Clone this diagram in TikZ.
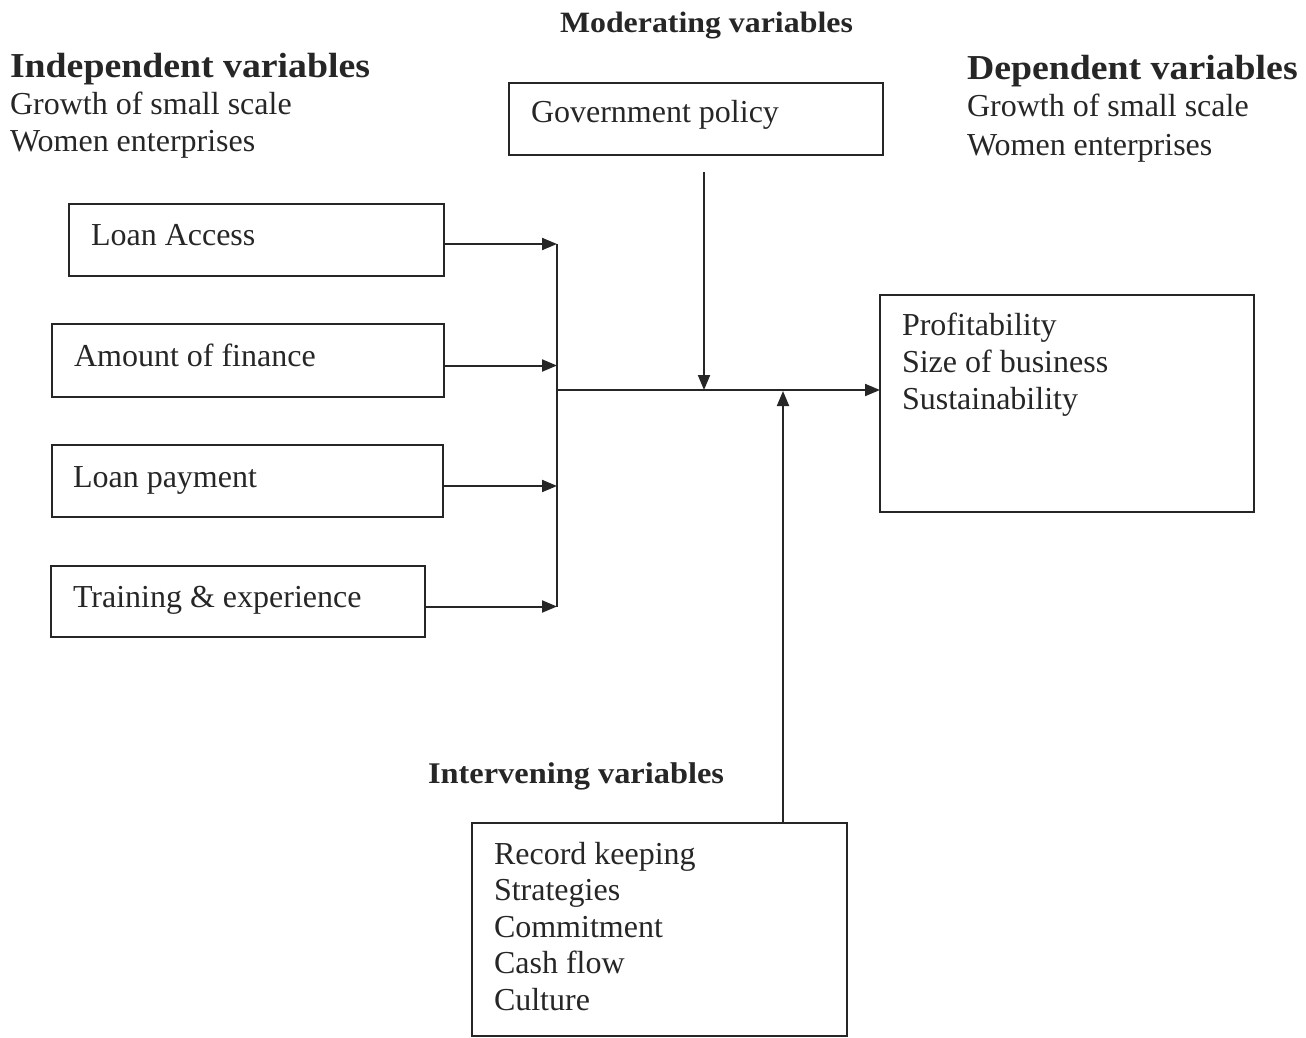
\documentclass[tikz,border=0pt]{standalone}
\usepackage{fontspec}
\setmainfont{Liberation Serif}
\newfontfamily\hdfont[FakeStretch=1.08]{Liberation Serif}
\usetikzlibrary{arrows.meta}
\definecolor{ink}{HTML}{262626}
\begin{document}
\begin{tikzpicture}[x=1pt,y=-1pt,
  every node/.style={inner sep=0pt, outer sep=0pt, text=ink, font=\fontsize{32}{37}\selectfont},
  box/.style={draw=ink, line width=2pt, anchor=north west},
  lbl/.style={anchor=base west},
  hd/.style={anchor=base west, font=\hdfont\fontsize{30}{37}\selectfont\bfseries},
  bighd/.style={anchor=base west, font=\hdfont\fontsize{35}{37}\selectfont\bfseries},
  arr/.style={draw=ink, line width=2pt, -{Triangle[length=15pt,width=12pt]}},
  ln/.style={draw=ink, line width=2pt}]
\useasboundingbox (0,0) rectangle (1306,1038);

% headings
\node[hd, font=\hdfont\fontsize{29.5}{37}\selectfont\bfseries] (modh) at (560,33) {Moderating variables};
\node[bighd] (indh) at (10,78) {Independent variables};
\node[lbl] (ind1) at (10,115) {Growth of small scale};
\node[lbl] (ind2) at (10,152) {Women enterprises};
\node[bighd] (deph) at (967,80) {Dependent variables};
\node[lbl] (dep1) at (967,117) {Growth of small scale};
\node[lbl] (dep2) at (967,155) {Women enterprises};
\node[hd] (inth) at (428,783) {Intervening variables};

% boxes
\node[box, minimum width=374pt, minimum height=72pt] (gov) at (509,83) {};
\node[lbl] (govt) at (531,123) {Government policy};
\node[box, minimum width=375pt, minimum height=72pt] (loan) at (69,204) {};
\node[lbl] (loant) at (91,245) {Loan Access};
\node[box, minimum width=392pt, minimum height=73pt] (amount) at (52,324) {};
\node[lbl] (amountt) at (74,366) {Amount of finance};
\node[box, minimum width=391pt, minimum height=72pt] (pay) at (52,445) {};
\node[lbl] (payt) at (73,487) {Loan payment};
\node[box, minimum width=374pt, minimum height=71pt] (train) at (51,566) {};
\node[lbl] (traint) at (73,607) {Training \& experience};
\node[box, minimum width=374pt, minimum height=217pt] (dep) at (880,295) {};
\node[lbl] (depa) at (902,335) {Profitability};
\node[lbl] (depb) at (902,372) {Size of business};
\node[lbl] (depc) at (902,409) {Sustainability};
\node[box, minimum width=375pt, minimum height=213pt] (int) at (472,823) {};
\node[lbl] (inta) at (494,864) {Record keeping};
\node[lbl] (intb) at (494,900) {Strategies};
\node[lbl] (intc) at (494,937) {Commitment};
\node[lbl] (intd) at (494,973) {Cash flow};
\node[lbl] (inte) at (494,1010) {Culture};

% connectors
\coordinate (bus) at (557,390);
\draw[arr] ([yshift=-4pt]loan.east) -- ([yshift=-4pt]loan.east -| bus);
\draw[arr] ([yshift=-5pt]amount.east) -- ([yshift=-5pt]amount.east -| bus);
\draw[arr] ([yshift=-5pt]pay.east) -- ([yshift=-5pt]pay.east -| bus);
\draw[arr] ([yshift=-5pt]train.east) -- ([yshift=-5pt]train.east -| bus);
\draw[ln] ([yshift=-4pt]loan.east -| bus) -- ([yshift=-5pt]train.east -| bus);
\draw[arr] (bus) -- (bus -| dep.west);
\coordinate (govtail) at (704,172);
\draw[arr] (govtail) -- (govtail |- bus);
\coordinate (inthead) at (783,391);
\draw[arr] (int.north -| inthead) -- (inthead);
\end{tikzpicture}
\end{document}
